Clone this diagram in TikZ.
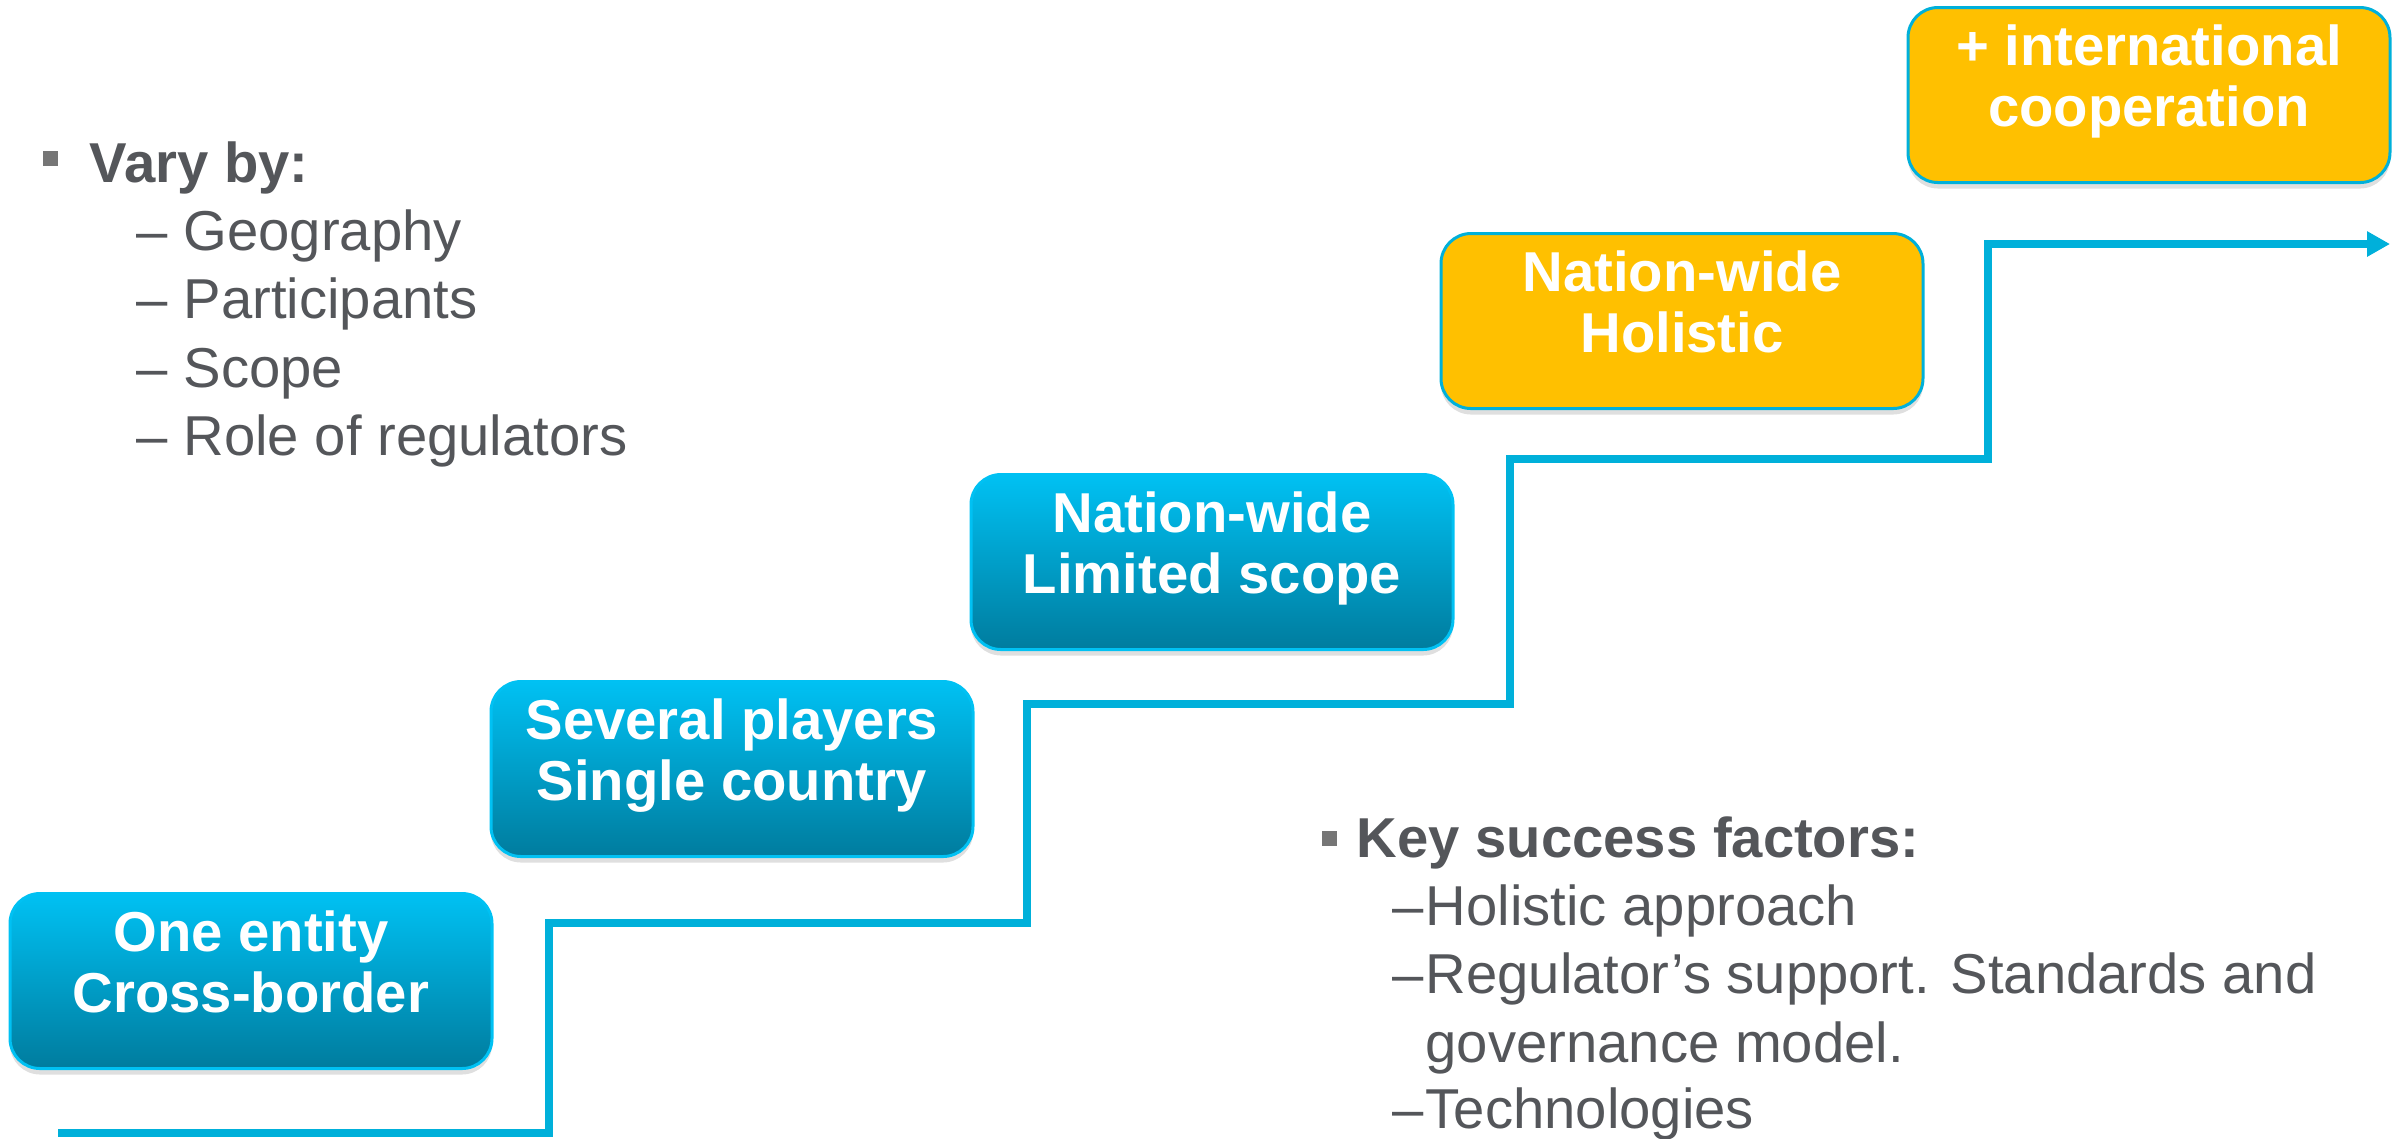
\documentclass[tikz,border=0pt]{standalone}
\usepackage{fontspec}
\setmainfont{Liberation Sans}
\usetikzlibrary{positioning, shadows, arrows.meta}
\definecolor{stepblue}{RGB}{0,176,218}
\definecolor{topblue}{RGB}{0,193,243}
\definecolor{lowblue}{RGB}{0,124,158}
\definecolor{gold}{RGB}{255,192,0}
\definecolor{txtgray}{RGB}{84,86,90}
\definecolor{dotgray}{RGB}{118,118,118}
\tikzstyle{stage}=[rectangle, rounded corners=3mm, minimum width=48.2mm,
  minimum height=17.5mm, align=center, text=white, text depth=3.8mm,
  font=\fontsize{16}{17.4}\selectfont\bfseries, line width=0.3mm, outer sep=0pt,
  drop shadow={shadow xshift=0mm, shadow yshift=-0.6mm, opacity=0.25}]
\tikzstyle{bluestage}=[stage, draw=topblue, top color=topblue, bottom color=lowblue]
\tikzstyle{goldstage}=[stage, draw=stepblue, fill=gold]
\tikzstyle{head}=[font=\fontsize{16}{19.4}\selectfont\bfseries, text=txtgray,
  anchor=base west, inner sep=0pt]
\tikzstyle{item}=[font=\fontsize{16}{19.4}\selectfont, text=txtgray,
  anchor=base west, inner sep=0pt, align=left]
\tikzstyle{bulletsq}=[fill=dotgray, minimum size=1.5mm, inner sep=0pt]
\tikzstyle{stair}=[draw=stepblue, line width=0.8mm,
  -{Triangle[length=2.3mm, width=2.4mm]}]

\begin{document}
\begin{tikzpicture}[x=0.1mm, y=-0.1mm]
    \useasboundingbox (0,0) rectangle (2405,1138);
    % the five stages
    \node[bluestage] (entity) at (251,981) {One entity\\Cross-border};
    \node[bluestage, above right=3.7mm and -0.1mm of entity] (players) {Several players\\Single country};
    \node[bluestage, above right=3.2mm and -0.2mm of players] (limited) {Nation-wide\\Limited scope};
    \node[goldstage, above right=6.6mm and -1.2mm of limited] (holistic) {Nation-wide\\Holistic};
    \node[goldstage, above right=5.1mm and -1.5mm of holistic] (intl) {+ international\\cooperation};
    % staircase
    \coordinate (base) at (58,1133);
    \coordinate (tip) at (2390,244);
    \draw[stair] (base) -| (549,923) -| (1027,704) -| (1510,459) -| (1988,244) -- (tip);
    % vary by
    \node[bulletsq] (varydot) at (50,158) {};
    \node[head] (vary) at (89,182) {Vary by:};
    \node[item] (geo) at (136,250) {-- Geography};
    \node[item] (part) at (136,318) {-- Participants};
    \node[item] (scope) at (136,387) {-- Scope};
    \node[item] (role) at (136,455) {-- Role of regulators};
    % key success factors
    \node[bulletsq] (keydot) at (1329,838) {};
    \node[head] (key) at (1356,857) {Key success factors:};
    \node[item] (approach) at (1392,925) {\makebox[3.3mm][l]{--}Holistic approach};
    \node[item] (support) at (1392,1062) {\makebox[3.3mm][l]{--}Regulator’s support. Standards and\\\hspace*{3.3mm}governance model.};
    \node[item] (tech) at (1392,1128) {\makebox[3.3mm][l]{--}Technologies};
\end{tikzpicture}
\end{document}
